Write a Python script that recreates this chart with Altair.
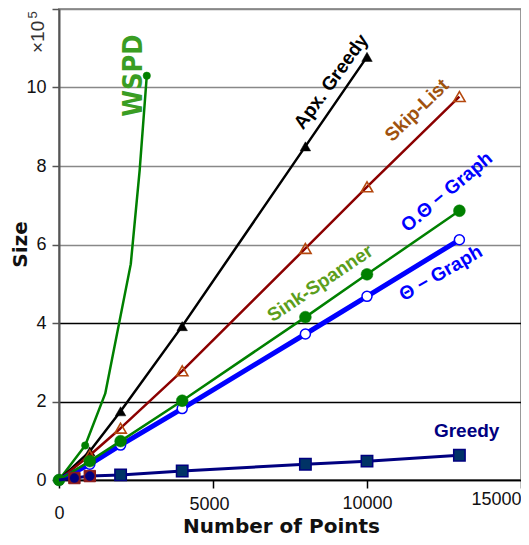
import altair as alt
import pandas as pd

# ---- data (sizes in units of 10^5) ----
apx_x = [0, 1000, 2000, 4000, 8000, 10000]
apx_y = [0, 0.73, 1.75, 3.92, 8.5, 10.78]

skip_x = [0, 1000, 2000, 4000, 8000, 10000, 13000]
skip_y = [0, 0.63, 1.32, 2.78, 5.9, 7.47, 9.77]

sink_x = [0, 1000, 2000, 4000, 8000, 10000, 13000]
sink_y = [0, 0.48, 0.99, 2.02, 4.15, 5.24, 6.86]

theta_x = [0, 1000, 2000, 4000, 8000, 10000, 13000]
theta_y = [0, 0.4, 0.89, 1.82, 3.72, 4.68, 6.12]

greedy_x = [0, 500, 1000, 2000, 4000, 8000, 10000, 13000]
greedy_y = [0, 0.05, 0.1, 0.13, 0.23, 0.4, 0.48, 0.63]

wspd_x = [0, 850, 1500, 2330, 2620, 2850]
wspd_y = [0, 0.88, 2.2, 5.5, 7.9, 10.3]
wspd_marked = [850, 2850]

label_text = ["Apx. Greedy", "Skip-List", "O.Θ − Graph", "Θ − Graph", "Sink-Spanner", "Greedy"]
label_x = [8835, 11618, 12589, 12395, 8479, 13236]
label_y = [10.15, 9.42, 7.34, 5.27, 5.01, 1.24]
label_angle = [306, 316, 320, 330, 326, 0]
label_color = ["#000000", "#a0520f", "#0000ff", "#0000ff", "#5b9e1c", "#000080"]

x_ticks = [0, 5000, 10000, 15000]
y_ticks = [0, 2, 4, 6, 8, 10, 12]

FONT = "Liberation Sans"
TFONT = "DejaVu Sans"

X = alt.X(
    "x:Q",
    scale=alt.Scale(domain=[0, 15000], nice=False, zero=False),
    axis=alt.Axis(
        values=x_ticks, grid=False, title="Number of Points", format="d",
        tickSize=8, tickColor="black", tickWidth=1.5,
        domainColor="black", domainWidth=1.5,
        labelFont=FONT, labelFontSize=18, labelColor="#111",
        labelAlign={"condition": {"test": "datum.value == 15000", "value": "right"}, "value": "center"},
        labelOffset={"condition": {"test": "datum.value == 5000", "value": -4}, "value": 0},
        labelPadding={"condition": [
            {"test": "datum.value == 0", "value": 16},
            {"test": "datum.value == 5000", "value": 7},
            {"test": "datum.value == 10000", "value": 6},
        ], "value": 2},
        labelFlush=False,
        titleFont=TFONT, titleFontSize=20, titleFontWeight="bold", titleColor="#111",
        titleX=222, titleY=52, titleBaseline="alphabetic", titleAlign="center",
    ),
)
Y = alt.Y(
    "y:Q",
    scale=alt.Scale(domain=[0, 12], nice=False, zero=False),
    axis=alt.Axis(
        values=y_ticks, grid=True,
        gridColor={"condition": {"test": "datum.value <= 4", "value": "#000000"}, "value": "#888888"},
        gridWidth=1.3,
        labelExpr="datum.value == 12 ? '' : datum.label",
        title="Size", tickSize=7, tickColor="#555", tickWidth=1.5,
        domainColor="#555", domainWidth=2,
        labelFont=FONT, labelFontSize=18, labelColor="#111", labelPadding=6,
        titleFont=TFONT, titleFontSize=20, titleFontWeight="bold", titleColor="#111",
        titleX=-33, titleY=235, titleAngle=270, titleAlign="center", titleBaseline="alphabetic",
    ),
)


def line(xs, ys, color, width):
    df = pd.DataFrame({"x": xs, "y": ys})
    return alt.Chart(df).mark_line(color=color, strokeWidth=width, strokeJoin="round").encode(x=X, y=Y)


def points(xs, ys, shape, size, fill=None, stroke=None, sw=1.5):
    df = pd.DataFrame({"x": xs, "y": ys})
    kw = dict(shape=shape, size=size, opacity=1, strokeWidth=sw)
    if fill is not None:
        kw["fill"] = fill
        kw["filled"] = True
    else:
        kw["filled"] = False
    if stroke is not None:
        kw["stroke"] = stroke
    return alt.Chart(df).mark_point(**kw).encode(x=X, y=Y)


def pick(xs, ys, keep):
    px = [a for a in xs if a in keep]
    py = [b for a, b in zip(xs, ys) if a in keep]
    return px, py


layers = []
# WSPD
layers.append(line(wspd_x, wspd_y, "#008000", 2.5))
wx, wy = pick(wspd_x, wspd_y, wspd_marked)
layers.append(points(wx, wy, "circle", 55, fill="#008000", stroke="#008000", sw=0.5))
# Apx Greedy
layers.append(line(apx_x, apx_y, "#000000", 2.5))
ax_, ay_ = pick(apx_x, apx_y, [1000, 2000, 4000, 8000, 10000])
layers.append(points(ax_, ay_, "triangle-up", 110, fill="#000000", stroke="#000000", sw=0.5))
# Skip-List
layers.append(line(skip_x, skip_y, "#8b0000", 2.5))
sx_, sy_ = pick(skip_x, skip_y, [1000, 2000, 4000, 8000, 10000, 13000])
layers.append(points(sx_, sy_, "triangle-up", 130, stroke="#b5480e", sw=1.6))
# Theta-Graph
layers.append(line(theta_x, theta_y, "#0000ff", 5))
layers.append(points(theta_x, theta_y, "circle", 100, fill="white", stroke="#0000ff", sw=1.5))
# Sink-Spanner
layers.append(line(sink_x, sink_y, "#008000", 2.5))
layers.append(points(sink_x, sink_y, "circle", 140, fill="#008000", stroke="#008000", sw=0.5))
# Greedy
layers.append(line(greedy_x, greedy_y, "#000080", 3))
gx1, gy1 = pick(greedy_x, greedy_y, [500, 1000])
layers.append(points(gx1, gy1, "square", 130, fill="#8b1a1a", stroke="#8b1a1a", sw=1))
layers.append(points(gx1, gy1, "circle", 80, fill="#000080", stroke="#000080", sw=0.5))
gx2, gy2 = pick(greedy_x, greedy_y, [2000, 4000, 8000, 10000, 13000])
layers.append(points(gx2, gy2, "square", 130, fill="#003366", stroke="#000080", sw=1.5))

# series labels
lab = pd.DataFrame({"x": label_x, "y": label_y, "text": label_text,
                    "angle": label_angle, "color": label_color})
layers.append(
    alt.Chart(lab).mark_text(font=FONT, fontSize=19, fontWeight="bold",
                             align="center", baseline="middle").encode(
        x=X, y=Y, text="text:N",
        angle=alt.Angle("angle:Q", scale=None),
        color=alt.Color("color:N", scale=None),
    )
)
wl = pd.DataFrame({"x": [2450], "y": [10.3], "text": ["WSPD"]})
layers.append(
    alt.Chart(wl).mark_text(font="Liberation Sans Narrow, DejaVu Sans Condensed, Liberation Sans",
                            fontSize=27, fontWeight="bold", angle=270, color="#3a9d23",
                            align="center", baseline="middle").encode(x=X, y=Y, text="text:N")
)
ex = pd.DataFrame({"x": [-666, -844], "y": [11.29, 11.85], "text": ["×10", "5"], "fs": [19, 13]})
layers.append(
    alt.Chart(ex).mark_text(font=FONT, angle=270, color="#333",
                            align="center", baseline="middle", clip=False).encode(
        x=X, y=Y, text="text:N", size=alt.Size("fs:Q", scale=None))
)

chart = alt.layer(*layers).properties(
    width=462, height=471,
    autosize=alt.AutoSizeParams(type="none"),
    padding={"left": 51, "top": 1, "right": 0, "bottom": 57},
).configure_view(stroke="#999999", strokeWidth=2)

chart.save("out.html", embed_options={"renderer": "svg", "actions": False})
